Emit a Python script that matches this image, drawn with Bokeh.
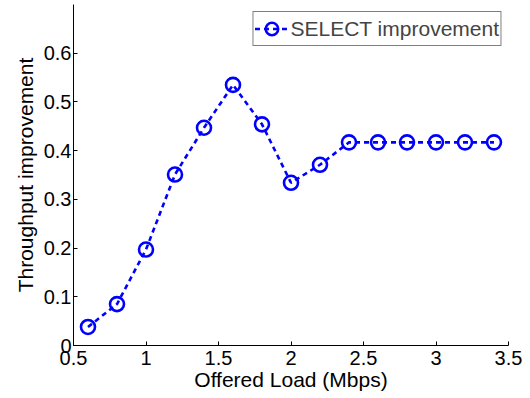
from bokeh.plotting import figure
from bokeh.models import Range1d, Legend, LegendItem, FixedTicker
from bokeh.embed import file_html
from bokeh.resources import INLINE

offered_load = [0.6, 0.8, 1.0, 1.2, 1.4, 1.6, 1.8, 2.0, 2.2, 2.4, 2.6, 2.8, 3.0, 3.2, 3.4]
improvement = [0.038, 0.085, 0.197, 0.351, 0.447, 0.535, 0.454, 0.334, 0.371, 0.417,
               0.417, 0.417, 0.417, 0.417, 0.417]
x_ticks = [0.5, 1.0, 1.5, 2.0, 2.5, 3.0, 3.5]
y_ticks = [0, 0.1, 0.2, 0.3, 0.4, 0.5, 0.6]

FONT = "Liberation Sans"
BLUE = "#0000ff"

p = figure(width=530, height=398, output_backend="svg", toolbar_location=None,
           x_range=Range1d(0.5, 3.5), y_range=Range1d(0, 0.7),
           min_border_left=73, min_border_right=22, min_border_top=4, min_border_bottom=53)
p.outline_line_color = None
p.xgrid.visible = False
p.ygrid.visible = False
p.background_fill_color = "white"
p.border_fill_color = "white"

ln = p.line(offered_load, improvement, line_color=BLUE, line_width=2.6, line_dash="5 4")
sc = p.scatter(offered_load, improvement, marker="circle", size=14, fill_color=None,
               line_color=BLUE, line_width=2.6)

for ax, ticks in ((p.xaxis, x_ticks), (p.yaxis, y_ticks)):
    ax.ticker = FixedTicker(ticks=ticks)
    ax.major_tick_in = 4
    ax.major_tick_out = 0
    ax.minor_tick_line_color = None
    ax.axis_line_color = "black"
    ax.major_tick_line_color = "black"
    ax.major_label_text_font = FONT
    ax.major_label_text_font_size = "20px"
    ax.major_label_text_color = "black"
    ax.axis_label_text_font = FONT
    ax.axis_label_text_font_size = "21px"
    ax.axis_label_text_font_style = "normal"
    ax.axis_label_text_color = "black"

p.xaxis.axis_label = "Offered Load (Mbps)"
p.yaxis.axis_label = "Throughput improvement"
p.xaxis.major_label_standoff = 5
p.yaxis.major_label_standoff = 2
p.xaxis.axis_label_standoff = 0
p.yaxis.axis_label_standoff = 4
p.xaxis.major_label_overrides = {0.5: "0.5", 1.0: "1", 1.5: "1.5", 2.0: "2", 2.5: "2.5", 3.0: "3", 3.5: "3.5"}
p.yaxis.major_label_overrides = {0: "0", 0.1: "0.1", 0.2: "0.2", 0.3: "0.3", 0.4: "0.4", 0.5: "0.5", 0.6: "0.6"}

legend = Legend(items=[LegendItem(label="SELECT improvement", renderers=[ln, sc])],
                location="top_right", margin=7,
                border_line_color="black", border_line_width=1,
                label_text_font=FONT, label_text_font_size="21px",
                glyph_width=34, glyph_height=31, label_standoff=2,
                label_height=20,
                padding=1, spacing=0, background_fill_alpha=1.0)
p.add_layout(legend)

open("out.html", "w").write(file_html(p, INLINE))
